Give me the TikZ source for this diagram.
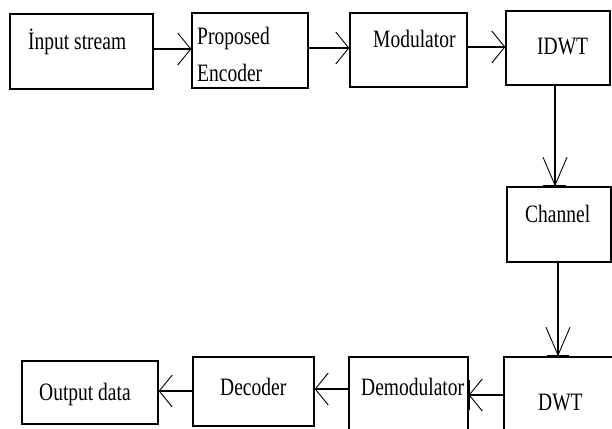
\documentclass[tikz,border=0pt]{standalone}
\usepackage{fontspec}
\setmainfont{Liberation Serif}[FakeStretch=0.78]
\usetikzlibrary{arrows.meta}
\begin{document}
\begin{tikzpicture}[x=1pt,y=-1pt,
  box/.style={draw,line width=1.3pt,inner sep=0pt},
  lbl/.style={anchor=base west,inner sep=0pt,font=\fontsize{25}{28}\selectfont},
  harr/.style={line width=1.1pt,-{Straight Barb[length=13pt,width=32pt,line width=0.9pt]}},
  varr/.style={line width=1.1pt,-{Straight Barb[length=28pt,width=24pt,line width=0.9pt]}},
  bar/.style={line width=2.6pt}]
\useasboundingbox (0,0) rectangle (612,428);
\clip (0,0) rectangle (612,428);
\fill[white] (0,0) rectangle (612,428);
% boxes
\node[box,minimum width=143pt,minimum height=75pt] (in) at (81.5,51.5) {};
\node[box,minimum width=116pt,minimum height=75pt] (enc) at (250,50.5) {};
\node[box,minimum width=117pt,minimum height=74pt] (mod) at (408.5,50) {};
\node[box,minimum width=104pt,minimum height=74pt] (idwt) at (558,48) {};
\node[box,minimum width=104pt,minimum height=75pt] (chan) at (559,224.5) {};
\node[box,minimum width=112pt,minimum height=76pt] (dwt) at (560,395) {};
\node[box,minimum width=119pt,minimum height=76pt] (demod) at (408.5,395) {};
\node[box,minimum width=121pt,minimum height=69pt] (dec) at (253.5,391.5) {};
\node[box,minimum width=136pt,minimum height=63pt] (out) at (90,392.5) {};
% labels
\node[lbl] (tin) at (28,49) {İnput stream};
\node[lbl] (tenc1) at (197,45) {Proposed};
\node[lbl] (tenc2) at (197,81) {Encoder};
\node[lbl] (tmod) at (373,48) {Modulator};
\node[lbl] (tidwt) at (537,55) {IDWT};
\node[lbl] (tchan) at (525,222) {Channel};
\node[lbl] (tdwt) at (538,410) {DWT};
\node[lbl] (tdemod) at (361,395) {Demodulator};
\node[lbl] (tdec) at (220,395) {Decoder};
\node[lbl] (tout) at (39,400) {Output data};
% connectors
\draw[harr] (in.east |- 0,49) -- (enc.west |- 0,49);
\draw[harr] (enc.east |- 0,48) -- (mod.west |- 0,48);
\draw[harr] (mod.east |- 0,47) -- (idwt.west |- 0,47);
\draw[varr] (idwt.south -| 555,0) -- (chan.north -| 555,0);
\draw[bar] (chan.north -| 543,0) -- (chan.north -| 566,0);
\draw[varr] (chan.south -| 558,0) -- (dwt.north -| 558,0);
\draw[bar] (dwt.north -| 547,0) -- (dwt.north -| 569,0);
\draw[harr] (dwt.west |- 0,395) -- (demod.east |- 0,395);
\draw[bar] (demod.east |- 0,380) -- (demod.east |- 0,410);
\draw[harr] (demod.west |- 0,389) -- (dec.east |- 0,389);
\draw[harr] (dec.west |- 0,391) -- (out.east |- 0,391);
\end{tikzpicture}
\end{document}
